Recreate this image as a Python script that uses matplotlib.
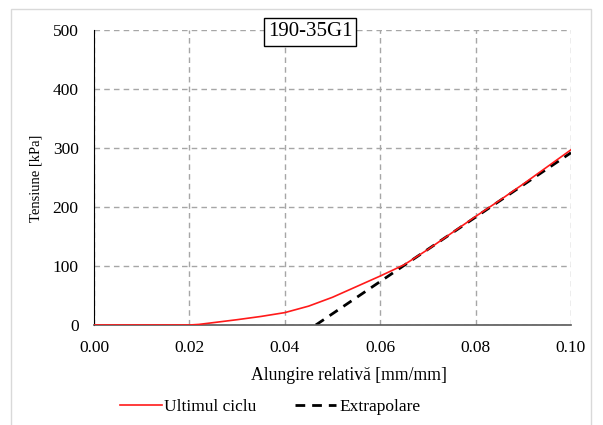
import matplotlib
matplotlib.use("Agg")
import matplotlib.pyplot as plt
from matplotlib.patches import Rectangle

plt.rcParams['font.family'] = ['Liberation Serif', 'DejaVu Serif']

# Last loading cycle (strain [mm/mm], stress [kPa])
strain_cycle = [0.0, 0.010, 0.020, 0.022, 0.025, 0.030, 0.035, 0.040, 0.045, 0.050,
                0.055, 0.060, 0.065, 0.070, 0.075, 0.080, 0.085, 0.090, 0.095, 0.100]
stress_cycle = [0.0, 0.0, 0.0, 1.0, 4.0, 9.0, 14.5, 21.0, 32.0, 47.0,
                65.0, 83.0, 102.0, 128.0, 156.0, 184.0, 211.0, 239.0, 268.0, 297.0]

# Linear extrapolation of the loading branch
strain_extra = [0.0465, 0.100]
stress_extra = [0.0, 292.0]

x_ticks = [0.00, 0.02, 0.04, 0.06, 0.08, 0.10]
y_ticks = [0, 100, 200, 300, 400, 500]

W, H = 603, 425
fig = plt.figure(figsize=(W / 100, H / 100), dpi=100)
ax = fig.add_axes([94 / W, 1 - 325 / H, (571 - 94) / W, (325 - 30) / H])

ax.plot(strain_cycle, stress_cycle, color='#ff1a1a', lw=1.2, label='Ultimul ciclu', zorder=3)
ax.plot(strain_extra, stress_extra, color='black', lw=2.0, ls=(0, (3.5, 2.5)),
        label='Extrapolare', zorder=2)

ax.set_xlim(0, 0.10)
ax.set_ylim(0, 500)
ax.set_xticks(x_ticks)
ax.set_yticks(y_ticks)
ax.set_xticklabels([f"{v:.2f}" for v in x_ticks])
ax.tick_params(length=0, labelsize=12.5, colors='black')
ax.tick_params(axis='x', pad=11)
ax.tick_params(axis='y', pad=11)
ax.grid(True, color='#a6a6a6', ls=(0, (4, 3)), lw=1.0)
ax.set_axisbelow(True)

for s in ['top', 'right']:
    ax.spines[s].set_visible(False)
ax.spines['left'].set_color('black')
ax.spines['bottom'].set_color('#595959')
ax.spines['bottom'].set_linewidth(1.2)

fig.text(349 / W, 1 - 375 / H, 'Alungire relativă [mm/mm]', ha='center', va='center',
         fontsize=12.7)
fig.text(36 / W, 1 - 178 / H, 'Tensiune [kPa]', ha='center', va='center',
         rotation=90, fontsize=10.5)

fig.text(310 / W, 1 - 32 / H, '190-35G1', ha='center', va='center',
         fontsize=15, bbox=dict(boxstyle='square,pad=0.2', fc='white', ec='black', lw=1.0),
         zorder=5)

fig.legend(loc='center left', bbox_to_anchor=(120 / W, 1 - 407 / H), ncol=2, frameon=False,
           fontsize=12.5, handlelength=2.4, handletextpad=0.15, columnspacing=2.2,
           borderaxespad=0, borderpad=0)

# Light frame around the chart area
fig.patches.append(Rectangle((11 / W, -0.01), (591 - 11) / W, 1 - 9 / H + 0.01,
                             transform=fig.transFigure, fill=False, ec='#d9d9d9', lw=1.0))

fig.savefig('out.png', dpi=100, facecolor='white')
